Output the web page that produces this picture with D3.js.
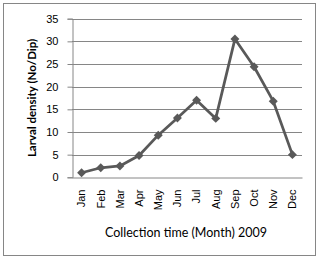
<!DOCTYPE html>
<html>
<head>
<meta charset="utf-8">
<script src="https://cdn.jsdelivr.net/npm/d3@7"></script>
<style>
  body { margin: 0; background: #fff; }
  svg { display: block; font-family: Lato, "Open Sans", sans-serif; }
</style>
</head>
<body>
<svg id="chart" width="321" height="259"></svg>
<script>
const months = ['Jan', 'Feb', 'Mar', 'Apr', 'May', 'Jun', 'Jul', 'Aug', 'Sep', 'Oct', 'Nov', 'Dec'];
const density = [1.0, 2.1, 2.5, 4.8, 9.3, 13.1, 17.0, 13.0, 30.5, 24.4, 16.8, 5.0];
const yTicks = [0, 5, 10, 15, 20, 25, 30, 35];

const svg = d3.select('#chart');

// outer chart border
svg.append('rect')
  .attr('x', 3.5).attr('y', 3.5)
  .attr('width', 312).attr('height', 252)
  .attr('fill', 'none')
  .attr('stroke', '#868686');

const plotLeft = 72, plotRight = 302, plotTop = 18.7, plotBottom = 177.3;

const x = d3.scaleBand().domain(months).range([plotLeft, plotRight]);
const y = d3.scaleLinear().domain([0, 35]).range([plotBottom, plotTop]);

// gridlines
svg.append('g')
  .selectAll('line')
  .data(yTicks.slice(1))
  .join('line')
  .attr('x1', plotLeft).attr('x2', plotRight)
  .attr('y1', (d) => Math.round(y(d)) + 0.5)
  .attr('y2', (d) => Math.round(y(d)) + 0.5)
  .attr('stroke', '#868686');

// y axis
const yAxis = svg.append('g')
  .attr('transform', `translate(${plotLeft + 0.5},0)`)
  .call(d3.axisLeft(y).tickValues(yTicks).tickSize(5).tickPadding(9));
yAxis.selectAll('.tick line').attr('stroke', '#868686');
yAxis.select('.domain').attr('stroke', '#868686');
yAxis.selectAll('text').attr('font-size', 11).attr('fill', '#000');

// x axis
const xAxis = svg.append('g')
  .attr('transform', `translate(0,${Math.round(plotBottom) + 0.5})`)
  .call(d3.axisBottom(x).tickSize(0).tickPadding(0));
xAxis.select('.domain').attr('stroke', '#868686');
xAxis.selectAll('text')
  .attr('font-size', 11)
  .attr('fill', '#000')
  .attr('text-anchor', 'end')
  .attr('dy', '0.35em')
  .attr('transform', 'translate(0,12) rotate(-90)')
  .attr('y', 0).attr('x', 0);

// line
const line = d3.line()
  .x((d, i) => x(months[i]) + x.bandwidth() / 2)
  .y((d) => y(d));

svg.append('path')
  .datum(density)
  .attr('d', line)
  .attr('fill', 'none')
  .attr('stroke', '#595959')
  .attr('stroke-width', 2.75)
  .attr('stroke-linejoin', 'round');

svg.append('g')
  .selectAll('path')
  .data(density)
  .join('path')
  .attr('d', d3.symbol(d3.symbolSquare, 40))
  .attr('transform', (d, i) => `translate(${x(months[i]) + x.bandwidth() / 2},${y(d)}) rotate(45)`)
  .attr('fill', '#595959');

// axis titles
svg.append('text')
  .attr('transform', `translate(36,${(plotTop + plotBottom) / 2}) rotate(-90)`)
  .attr('text-anchor', 'middle')
  .attr('font-size', 11.5)
  .attr('font-weight', 'bold')
  .text('Larval density (No/Dip)');

svg.append('text')
  .attr('x', 186)
  .attr('y', 237)
  .attr('text-anchor', 'middle')
  .attr('font-size', 12.5)
  .text('Collection time (Month) 2009');
</script>
</body>
</html>
